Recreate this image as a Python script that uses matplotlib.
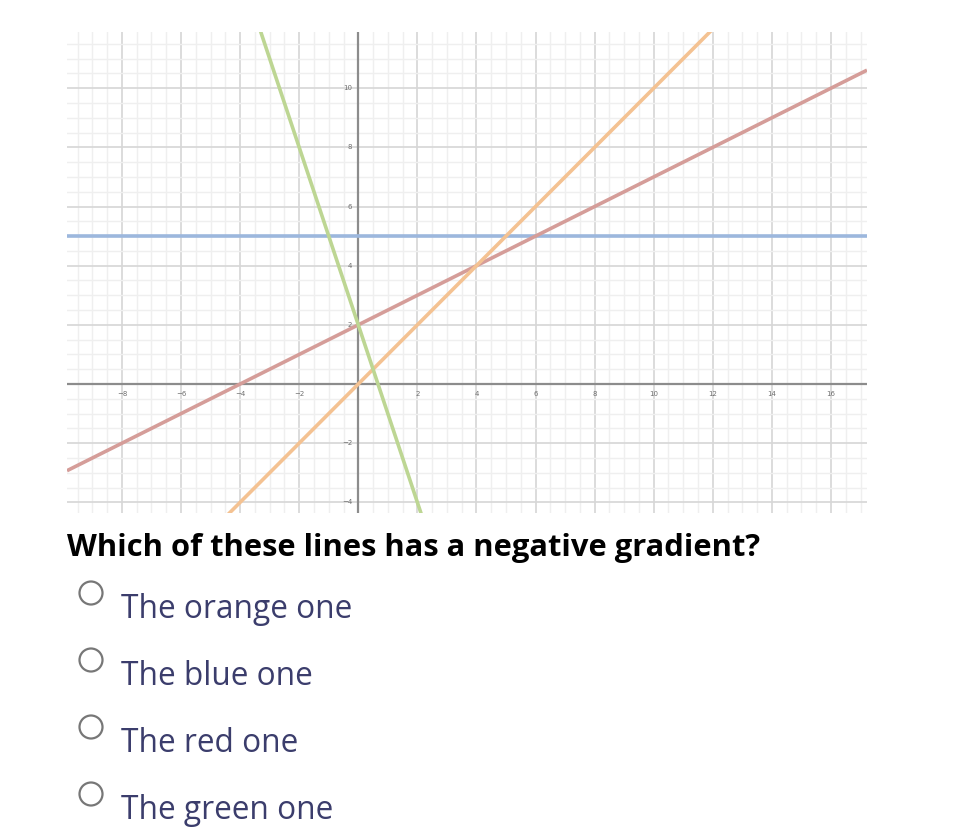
import numpy as np
import matplotlib.pyplot as plt
from matplotlib.patches import Circle

# line equations: y = m*x + c
lineNames = ['blue', 'red', 'orange', 'green']
lineSlopes = [0, 0.5, 1, -3]
lineIntercepts = [5, 2, 0, 2]
lineColours = ['#9cb7dd', '#d59d99', '#f4c292', '#bdd693']

xTicks = [-8, -6, -4, -2, 2, 4, 6, 8, 10, 12, 14, 16]
yTicks = [-4, -2, 2, 4, 6, 8, 10]
xLimits = (-9.86, 17.22)
yLimits = (-4.36, 11.9)

question = 'Which of these lines has a negative gradient?'
answers = ['The orange one', 'The blue one', 'The red one', 'The green one']

W, H = 962, 833
fig = plt.figure(figsize=(W / 100, H / 100), dpi=100)

# graph area (pixel box 67..867 x 32..513)
ax = fig.add_axes([67 / W, 1 - 513 / H, 800 / W, 481 / H])
ax.set_xlim(*xLimits)
ax.set_ylim(*yLimits)
ax.set_xticks(np.arange(-8, 18, 2))
ax.set_yticks(np.arange(-4, 12, 2))
ax.set_xticks(np.arange(-9.5, 17.5, 0.5), minor=True)
ax.set_yticks(np.arange(-4, 12, 0.5), minor=True)
ax.grid(which='minor', color='#efefef', linewidth=1)
ax.grid(which='major', color='#d6d6d6', linewidth=1.2)
ax.tick_params(which='both', length=0, labelbottom=False, labelleft=False)
for s in ax.spines.values():
    s.set_visible(False)
ax.set_axisbelow(True)

# axis lines
ax.axhline(0, color='#8c8c8c', linewidth=1.6, zorder=2)
ax.axvline(0, color='#8c8c8c', linewidth=1.6, zorder=2)

# tick numbers
for t in xTicks:
    ax.text(t, -0.25, str(t).replace('-', '\u2212'), fontsize=5, color='#6f6f6f',
            ha='center', va='top', zorder=3)
for t in yTicks:
    ax.text(-0.2, t, str(t).replace('-', '\u2212'), fontsize=5, color='#6f6f6f',
            ha='right', va='center', zorder=3)

# the four lines
xs = np.array(xLimits)
for name, m, c, col in zip(lineNames, lineSlopes, lineIntercepts, lineColours):
    ax.plot(xs, m * xs + c, color=col, linewidth=2.6, solid_capstyle='butt', zorder=4)

# question and answers on an overlay in pixel coordinates
ov = fig.add_axes([0, 0, 1, 1], facecolor='none')
ov.set_xlim(0, W)
ov.set_ylim(H, 0)
ov.axis('off')

ov.text(67, 556, question, fontsize=22.2, fontweight='bold', family='Open Sans',
        color='#000000', ha='left', va='baseline')

for i, a in enumerate(answers):
    cy = 593 + i * 67
    ov.add_patch(Circle((91, cy), 11.5, facecolor='white', edgecolor='#777777', linewidth=1.6))
    ov.text(121, cy + 25, a, fontsize=22.8, family='Open Sans', color='#3b3d6c',
            ha='left', va='baseline')

fig.savefig('out.png', dpi=100)
